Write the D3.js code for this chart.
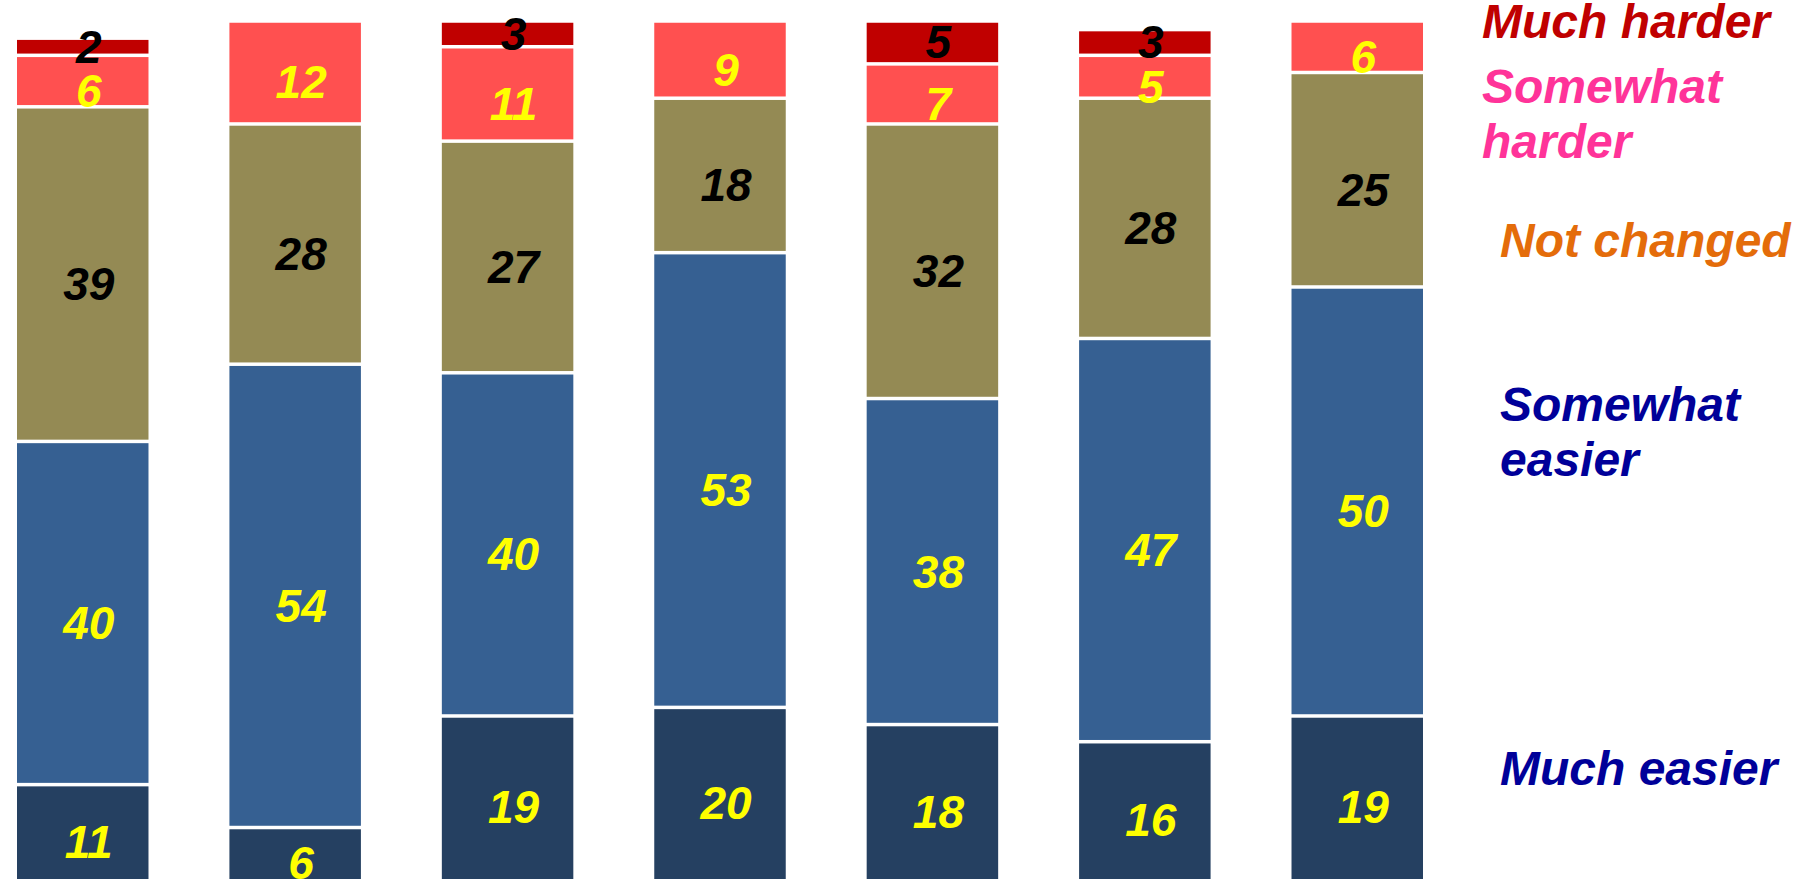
<!DOCTYPE html>
<html>
<head>
<meta charset="utf-8">
<script src="https://cdn.jsdelivr.net/npm/d3@7"></script>
<style>
  html, body { margin: 0; padding: 0; background: #ffffff; }
  svg { display: block; }
  text { font-family: "Liberation Sans", Arial, sans-serif; font-weight: bold; font-style: italic; }
</style>
</head>
<body>
<svg id="chart" width="1806" height="879"></svg>
<script>
// ---- data ----
const categories = ["G1", "G2", "G3", "G4", "G5", "G6", "G7"];
const seriesNames = ["Much easier", "Somewhat easier", "Not changed", "Somewhat harder", "Much harder"];
const muchEasier     = [11, 6, 19, 20, 18, 16, 19];
const somewhatEasier = [40, 54, 40, 53, 38, 47, 50];
const notChanged     = [39, 28, 27, 18, 32, 28, 25];
const somewhatHarder = [6, 12, 11, 9, 7, 5, 6];
const muchHarder     = [2, 0, 3, 0, 5, 3, 0];
const legendLines = [
  ["Much harder"],
  ["Somewhat", "harder"],
  ["Not changed"],
  ["Somewhat", "easier"],
  ["Much easier"]
];

// ---- styles ----
const barColors   = ["#254061", "#366092", "#948A54", "#FF5050", "#C00000"];
const labelColors = ["#FFFF00", "#FFFF00", "#000000", "#FFFF00", "#000000"];
const labelDy     = [10, 10, 10, 10, 0];
const legendColors = ["#C00000", "#FF3399", "#E46C0A", "#000099", "#000099"];
const legendX = [1482, 1482, 1500, 1500, 1500];
const legendBaseline = [38, 103, 257, 421, 785];
const legendLineHeight = 55;

const W = 1806, H = 879;
const svg = d3.select("#chart");

const values = [muchEasier, somewhatEasier, notChanged, somewhatHarder, muchHarder];
const rows = categories.map((c, i) => {
  const r = { cat: c };
  seriesNames.forEach((s, k) => r[s] = values[k][i]);
  return r;
});
const stacked = d3.stack().keys(seriesNames)(rows);

const x = d3.scaleBand().domain(categories).range([17, 1423]).paddingInner(0.381).paddingOuter(0);
const y = d3.scaleLinear().domain([0, 100]).range([879, 21]);
const gap = 3.5;

const g = svg.append("g");
stacked.forEach((layer, k) => {
  const lg = g.append("g");
  lg.selectAll("rect")
    .data(layer.filter(d => d[1] - d[0] > 0))
    .join("rect")
    .attr("x", d => x(d.data.cat))
    .attr("width", x.bandwidth())
    .attr("y", d => y(d[1]) + gap / 2)
    .attr("height", d => Math.max(0, y(d[0]) - y(d[1]) - (d[0] === 0 ? gap / 2 : gap)))
    .attr("fill", barColors[k]);
});
stacked.forEach((layer, k) => {
  g.append("g").selectAll("text")
    .data(layer.filter(d => d[1] - d[0] > 0))
    .join("text")
    .attr("x", d => x(d.data.cat) + x.bandwidth() / 2 + 6)
    .attr("y", d => (y(d[0]) + y(d[1])) / 2 + labelDy[k])
    .attr("text-anchor", "middle")
    .attr("dominant-baseline", "central")
    .attr("font-size", 46)
    .attr("fill", labelColors[k])
    .text(d => d[1] - d[0]);
});

// legend
const leg = svg.append("g");
legendLines.forEach((lines, i) => {
  const t = leg.append("text")
    .attr("x", legendX[i])
    .attr("y", legendBaseline[i])
    .attr("font-size", 48)
    .attr("fill", legendColors[i]);
  lines.forEach((ln, j) => {
    t.append("tspan").attr("x", legendX[i]).attr("dy", j === 0 ? 0 : legendLineHeight).text(ln);
  });
});
</script>
</body>
</html>
